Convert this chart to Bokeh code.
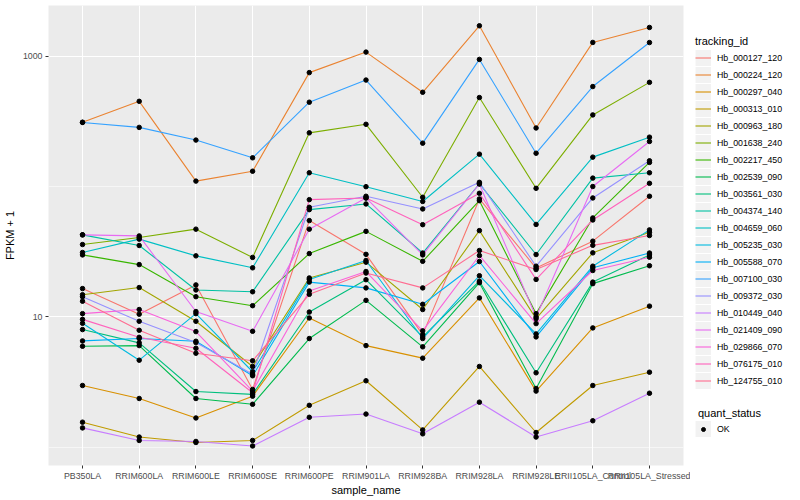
from bokeh.plotting import figure
from bokeh.layouts import row
from bokeh.models import (Range1d, FixedTicker, PrintfTickFormatter,
                          Legend, LegendItem, ColumnDataSource)
from bokeh.embed import file_html
from bokeh.resources import INLINE

categories = ["PB350LA", "RRIM600LA", "RRIM600LE", "RRIM600SE", "RRIM600PE",
              "RRIM901LA", "RRIM928BA", "RRIM928LA", "RRIM928LE",
              "RRII105LA_Control", "RRII105LA_Stressed"]

tracking_ids = ["Hb_000127_120", "Hb_000224_120", "Hb_000297_040", "Hb_000313_010",
                "Hb_000963_180", "Hb_001638_240", "Hb_002217_450", "Hb_002539_090",
                "Hb_003561_030", "Hb_004374_140", "Hb_004659_060", "Hb_005235_030",
                "Hb_005588_070", "Hb_007100_030", "Hb_009372_030", "Hb_010449_040",
                "Hb_021409_090", "Hb_029866_070", "Hb_076175_010", "Hb_124755_010"]

# FPKM + 1 per sample (order of categories)
hb_000127_120 = [16.5, 10.5, 17.6, 2.78, 54.8, 30.2, 7.32, 80.3, 23.7, 38.1, 84.2]
hb_000224_120 = [311, 450, 110, 131, 747, 1073, 528, 1708, 281, 1273, 1658]
hb_000297_040 = [2.98, 2.37, 1.68, 2.47, 9.82, 6.03, 4.83, 14.0, 2.70, 8.24, 12.1]
hb_000313_010 = [1.56, 1.20, 1.09, 1.13, 2.10, 3.24, 1.36, 4.17, 1.30, 2.98, 3.77]
hb_000963_180 = [14.8, 16.8, 9.26, 4.17, 19.9, 26.3, 11.4, 45.9, 9.7, 31.0, 44.6]
hb_001638_240 = [35.9, 40.6, 47.1, 28.6, 258, 300, 82.7, 481, 96.9, 354, 629]
hb_002217_450 = [29.9, 25.2, 14.3, 12.2, 30.6, 45.3, 26.7, 77.9, 10.6, 57.4, 153]
hb_002539_090 = [5.96, 6.03, 2.37, 2.14, 6.83, 13.4, 5.90, 18.3, 2.83, 18.0, 24.7]
hb_003561_030 = [8.0, 6.33, 2.68, 2.55, 10.9, 19.3, 7.03, 18.8, 3.73, 18.5, 29.9]
hb_004374_140 = [42.6, 35.3, 16.1, 15.6, 66.5, 73.5, 30.9, 105, 30.1, 116, 127.5]
hb_004659_060 = [31.2, 39.5, 29.4, 23.8, 127.5, 99.7, 76.8, 177, 51.2, 168, 239]
hb_005235_030 = [8.94, 4.66, 10.6, 3.80, 19.4, 27.1, 6.83, 20.7, 7.41, 24.5, 46.5]
hb_005588_070 = [6.55, 6.83, 6.51, 3.54, 18.5, 16.7, 12.5, 26.6, 7.03, 23.8, 30.9]
hb_007100_030 = [310, 284, 227, 166, 443, 655, 215, 943, 180, 584, 1270]
hb_009372_030 = [14.3, 9.26, 6.36, 3.64, 69.3, 84.2, 67.3, 107.7, 24.5, 81.7, 157.5]
hb_010449_040 = [1.41, 1.13, 1.11, 1.025, 1.70, 1.80, 1.27, 2.22, 1.20, 1.60, 2.60]
hb_021409_090 = [42.6, 41.8, 11.0, 7.76, 47.1, 81.7, 29.9, 104.5, 10.0, 100, 221.6]
hb_029866_070 = [10.6, 11.4, 7.72, 2.70, 15.8, 22.3, 7.82, 29.6, 8.89, 22.7, 28.7]
hb_076175_010 = [9.58, 6.98, 5.75, 2.62, 79.3, 81.7, 51.0, 88.7, 19.4, 55.4, 105.8]
hb_124755_010 = [13.2, 7.9, 5.27, 4.61, 14.9, 21.7, 16.7, 32.3, 23.1, 35.4, 42.1]

quant_status = "OK"

y_major_ticks = [10, 1000]
y_minor_ticks = [1, 100]

series_values = [hb_000127_120, hb_000224_120, hb_000297_040, hb_000313_010,
                 hb_000963_180, hb_001638_240, hb_002217_450, hb_002539_090,
                 hb_003561_030, hb_004374_140, hb_004659_060, hb_005235_030,
                 hb_005588_070, hb_007100_030, hb_009372_030, hb_010449_040,
                 hb_021409_090, hb_029866_070, hb_076175_010, hb_124755_010]

palette = ["#F8766D", "#EA8331", "#D89000", "#C09B00", "#A3A500", "#7CAE00",
           "#39B600", "#00BB4E", "#00BF7D", "#00C1A3", "#00BFC4", "#00BAE0",
           "#00B0F6", "#35A2FF", "#9590FF", "#C77CFF", "#E76BF3", "#FA62DB",
           "#FF62BC", "#FF6C91"]

FONT = "Liberation Sans"
H = 498

x_pos = list(range(len(categories)))

p = figure(width=690, height=H,
           x_range=Range1d(-0.6, len(categories) - 0.4),
           y_axis_type="log", y_range=Range1d(0.726, 2443),
           output_backend="svg", toolbar_location=None,
           min_border_left=45, min_border_right=7,
           min_border_top=5, min_border_bottom=29)

p.background_fill_color = "#EBEBEB"
p.border_fill_color = "white"
p.outline_line_color = None

p.xaxis.ticker = FixedTicker(ticks=x_pos, minor_ticks=[])
p.xaxis.major_label_overrides = {i: c for i, c in zip(x_pos, categories)}
p.yaxis.ticker = FixedTicker(ticks=y_major_ticks, minor_ticks=y_minor_ticks)
p.yaxis.formatter = PrintfTickFormatter(format="%d")

p.xgrid.grid_line_color = "white"
p.xgrid.grid_line_width = 1.1
p.ygrid.grid_line_color = "white"
p.ygrid.grid_line_width = 1.1
p.ygrid.minor_grid_line_color = "white"
p.ygrid.minor_grid_line_width = 0.55

for ax in (p.xaxis, p.yaxis):
    ax.axis_line_color = None
    ax.major_tick_line_color = "#333333"
    ax.major_tick_out = 3
    ax.major_tick_in = 0
    ax.minor_tick_line_color = None
    ax.major_label_text_font = FONT
    ax.major_label_text_font_size = "8.8px"
    ax.major_label_text_color = "#4D4D4D"
    ax.axis_label_text_font = FONT
    ax.axis_label_text_font_size = "11px"
    ax.axis_label_text_font_style = "normal"
    ax.axis_label_text_color = "black"

p.xaxis.axis_label = "sample_name"
p.yaxis.axis_label = "FPKM + 1"
p.xaxis.major_label_standoff = 2
p.xaxis.axis_label_standoff = 0
p.yaxis.major_label_standoff = 2
p.yaxis.axis_label_standoff = 4

for vals, col in zip(series_values, palette):
    p.line(x=x_pos, y=vals, line_color=col, line_width=1.1)

px, py = [], []
for vals in series_values:
    px.extend(x_pos)
    py.extend(vals)
p.scatter(x="x", y="y", source=ColumnDataSource(dict(x=px, y=py)),
          size=4.5, color="black")

# legend panel: same series drawn again, but outside its visible ranges,
# so that only the legends show
lf = figure(width=108, height=H, x_range=Range1d(-100, -99),
            y_range=Range1d(-100, -99),
            output_backend="svg", toolbar_location=None,
            x_axis_location=None, y_axis_location=None,
            min_border_left=0, min_border_right=0,
            min_border_top=0, min_border_bottom=0)
lf.grid.visible = False
lf.outline_line_color = None
lf.background_fill_color = "white"
lf.border_fill_color = "white"

items = []
for name, vals, col in zip(tracking_ids, series_values, palette):
    r = lf.line(x=x_pos, y=vals, line_color=col, line_width=1.1)
    items.append(LegendItem(label=name, renderers=[r]))
ok_r = lf.scatter(x=px, y=py, size=4.5, color="black")
key_bg = lf.line(x=x_pos, y=series_values[0], line_color="#F2F2F2",
                 line_width=16, line_cap="butt")


def style_legend(lg, gw=16, gh=17, lh=17, standoff=6):
    lg.label_text_font = FONT
    lg.label_text_font_size = "8.8px"
    lg.label_text_color = "black"
    lg.title_text_font = FONT
    lg.title_text_font_size = "11px"
    lg.title_text_font_style = "normal"
    lg.title_text_color = "black"
    lg.title_standoff = 2
    lg.glyph_width = gw
    lg.glyph_height = gh
    lg.label_height = lh
    lg.label_standoff = standoff
    lg.spacing = 0
    lg.padding = 0
    lg.margin = 0
    lg.border_line_color = None
    lg.background_fill_alpha = 0


# grey key boxes (drawn first, below the keys)
bg1 = Legend(items=[LegendItem(label=" ", renderers=[key_bg]) for _ in tracking_ids],
             location=(5, 76))
style_legend(bg1)
lf.add_layout(bg1, "center")

bg2 = Legend(items=[LegendItem(label=" ", renderers=[key_bg])], location=(5, 28))
style_legend(bg2)
lf.add_layout(bg2, "center")

legend1 = Legend(items=items, title="tracking_id", location=(5, 76))
style_legend(legend1)
lf.add_layout(legend1, "center")

legend2 = Legend(items=[LegendItem(label=quant_status, renderers=[ok_r])],
                 title="quant_status", location=(8, 31))
style_legend(legend2, gw=10, gh=10, lh=10, standoff=9)
legend2.title_standoff = 5
lf.add_layout(legend2, "center")

layout = row(p, lf, spacing=0)
open("out.html", "w").write(file_html(layout, INLINE))
